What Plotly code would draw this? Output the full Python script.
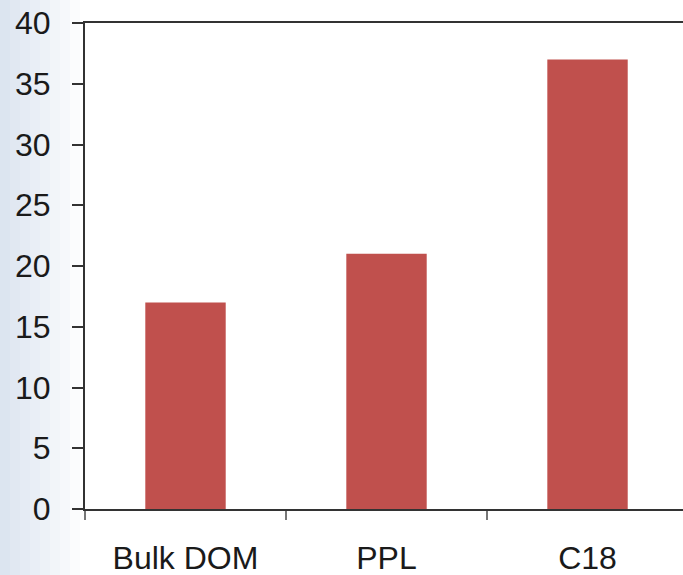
import plotly.graph_objects as go

categories = ["Bulk DOM", "PPL", "C18"]
values = [17, 21, 37]
y_ticks = [0, 5, 10, 15, 20, 25, 30, 35, 40]

fig = go.Figure()
fig.add_trace(go.Bar(
    x=categories, y=values, width=0.4,
    marker=dict(color="#C0504D", line=dict(width=0)),
))

# light blue gradient strip on left (slide background)
W = 598.0
L = 85.0
steps = 8
for i in range(steps):
    x0 = (-L + i * 10) / W
    x1 = (-L + (i + 1) * 10) / W
    op = 0.6 * (1 - i / steps)
    fig.add_shape(type="rect", xref="paper", yref="paper",
                  x0=x0, x1=x1, y0=-0.14, y1=1.05,
                  fillcolor="#c5d3e6", opacity=op, line=dict(width=0), layer="below")

font = dict(family="Liberation Sans, Arial, sans-serif", size=32, color="#1a1a1a")

fig.update_layout(
    width=683, height=575,
    margin=dict(l=85, r=0, t=23, b=66, autoexpand=False),
    paper_bgcolor="white", plot_bgcolor="rgba(0,0,0,0)",
    showlegend=False,
    xaxis=dict(
        type="category", range=[-0.5, 2.475], automargin=False,
        showline=True, linecolor="#333333", linewidth=2, mirror=True,
        ticks="outside", tickson="boundaries", ticklen=9, tickcolor="#777777", tickwidth=2,
        tickfont=font, showgrid=False, ticklabelstandoff=20,
    ),
    yaxis=dict(
        range=[0, 40], tickvals=y_ticks, automargin=False,
        showline=True, linecolor="#333333", linewidth=2,
        ticks="outside", ticklen=11, tickcolor="#333333", tickwidth=2,
        tickfont=font, showgrid=False, zeroline=False, ticklabelstandoff=15,
    ),
)

fig.write_html("out.html", config={"displayModeBar": False},
               post_script="document.body.style.margin='0';")
